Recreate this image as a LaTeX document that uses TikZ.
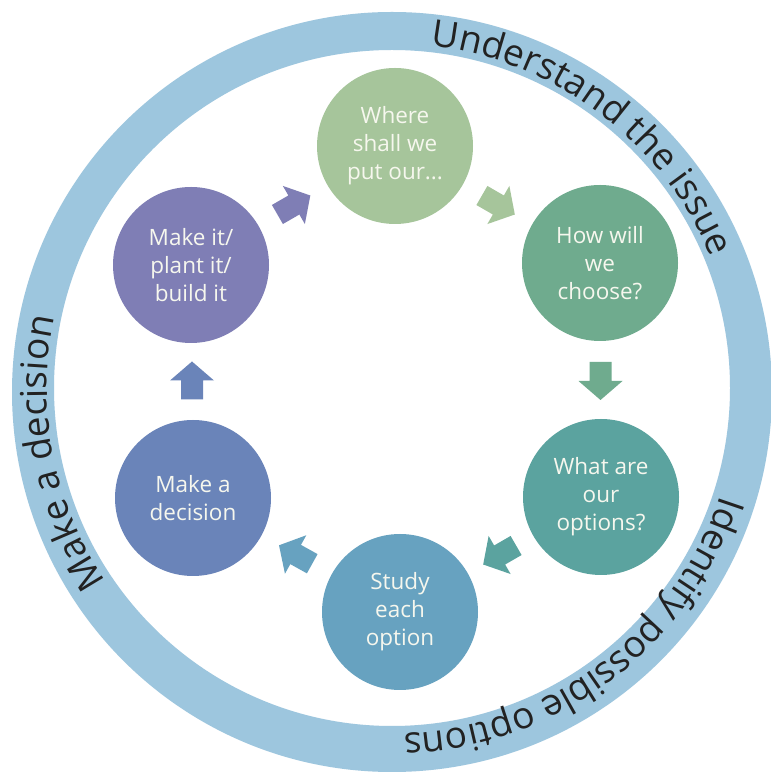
\documentclass[tikz,border=0pt]{standalone}
\usepackage{fontspec}
\setmainfont{Open Sans}
\usetikzlibrary{calc,decorations.text}
\definecolor{ringblue}{HTML}{9DC6DE}
\definecolor{cWhere}{HTML}{A6C59B}
\definecolor{cHow}{HTML}{6FAB8E}
\definecolor{cWhat}{HTML}{5BA39F}
\definecolor{cStudy}{HTML}{67A2C0}
\definecolor{cDecide}{HTML}{6A84B9}
\definecolor{cMake}{HTML}{7F7EB5}
\definecolor{ringtext}{HTML}{222222}
\definecolor{ctext}{HTML}{F6F7EE}
\newcommand\stagearrow[4]{%
  \begin{scope}[shift={($(#1)!0.5!(#2)$)}, rotate=#3]
    \fill[#4] (-18,-11) -- (1,-11) -- (1,-22) -- (20,0) -- (1,22) -- (1,11) -- (-18,11) -- cycle;
  \end{scope}}
\begin{document}
\begin{tikzpicture}[x=1pt,y=1pt,
  stage/.style={circle, minimum size=156pt, inner sep=0pt, text=ctext, align=center,
    font=\fontsize{22.5}{28}\selectfont},
  ringlabel/.style={decorate, decoration={text along path, text align=center, text color=ringtext, text={#1}}}
]
\fill[white] (0,0) rectangle (771,774);
\useasboundingbox (0,0) rectangle (771,774);
% ring
\fill[ringblue, even odd rule] (392,382) circle[radius=380] (392,386) circle[radius=338];
\coordinate (rc) at (392,385);
\path[ringlabel={|\fontsize{37}{42}\selectfont|Understand the issue}]
  ($(rc)+(98:345)$) arc[start angle=98, end angle=8, radius=345];
\path[ringlabel={|\fontsize{37}{42}\selectfont|Identify possible options}]
  ($(rc)+(-2:345)$) arc[start angle=-2, end angle=-104, radius=345];
\path[ringlabel={|\fontsize{37}{42}\selectfont|Make a decision}]
  ($(rc)+(235:345)$) arc[start angle=235, end angle=147, radius=345];
% stages
\node[stage, fill=cWhere]  (where)  at (395,628) {Where\\shall we\\put our...};
\node[stage, fill=cHow]    (how)    at (600,511) {How will\\we\\choose?};
\node[stage, fill=cWhat]   (what)   at (601,277) {What are\\our\\options?};
\node[stage, fill=cStudy]  (study)  at (400,162) {Study\\each\\option};
\node[stage, fill=cDecide] (decide) at (193,276) {Make a\\decision};
\node[stage, fill=cMake]   (make)   at (191,509) {Make it/\\plant it/\\build it};
% arrows
\stagearrow{where}{how}{-30}{cWhere}
\stagearrow{how}{what}{-90}{cHow}
\stagearrow{what}{study}{210}{cWhat}
\stagearrow{study}{decide}{151}{cStudy}
\stagearrow{decide}{make}{90}{cDecide}
\stagearrow{make}{where}{30}{cMake}
\end{tikzpicture}
\end{document}
